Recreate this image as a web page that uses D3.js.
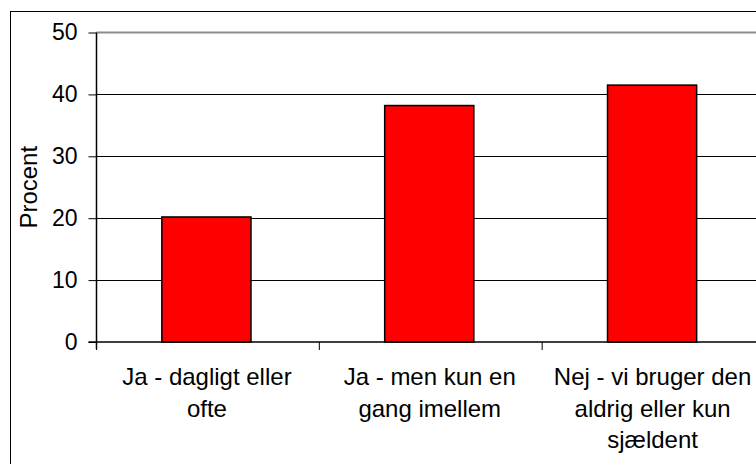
<!DOCTYPE html>
<html>
<head>
<meta charset="utf-8">
<script src="https://cdn.jsdelivr.net/npm/d3@7"></script>
<style>
  html, body { margin: 0; padding: 0; background: #fff; }
  svg { display: block; }
  text { font-family: Arial, "Liberation Sans", sans-serif; fill: #000; }
</style>
</head>
<body>
<svg id="chart" width="756" height="464"></svg>
<script>
// Survey answers (percent of respondents)
const categories = [
  ["Ja - dagligt eller", "ofte"],
  ["Ja - men kun en", "gang imellem"],
  ["Nej - vi bruger den", "aldrig eller kun", "sjældent"]
];
const values = [20.2, 38.2, 41.5];
const yTicks = [0, 10, 20, 30, 40, 50];
const yTitle = "Procent";

const FONT = 24;

const svg = d3.select("#chart");

// Outer chart frame (extends past the right/bottom edge)
svg.append("rect")
  .attr("x", 10.5).attr("y", 11.5)
  .attr("width", 800).attr("height", 500)
  .attr("fill", "#fff").attr("stroke", "#000").attr("stroke-width", 1);

const plot = { left: 96.5, top: 32.5, right: 765, bottom: 342 };

const x = d3.scaleBand()
  .domain(d3.range(categories.length))
  .range([plot.left, plot.right])
  .paddingInner(0.6)
  .paddingOuter(0.3);

const step = (plot.right - plot.left) / categories.length;

const y = d3.scaleLinear()
  .domain([0, 50])
  .range([plot.bottom, plot.top]);

// Gridlines
svg.append("g")
  .selectAll("line")
  .data(yTicks.filter(t => t > 0 && t < 50))
  .join("line")
  .attr("x1", plot.left).attr("x2", plot.right)
  .attr("y1", d => Math.round(y(d)) + 0.5).attr("y2", d => Math.round(y(d)) + 0.5)
  .attr("stroke", "#000").attr("stroke-width", 1);

// Plot area top border
svg.append("line")
  .attr("x1", plot.left).attr("x2", plot.right)
  .attr("y1", y(50)).attr("y2", y(50))
  .attr("stroke", "#8c8c8c").attr("stroke-width", 2);

// Bars
svg.append("g")
  .selectAll("rect")
  .data(values)
  .join("rect")
  .attr("x", (d, i) => x(i) - 1.5)
  .attr("y", d => y(d))
  .attr("width", x.bandwidth())
  .attr("height", d => y(0) - y(d))
  .attr("fill", "#ff0000")
  .attr("stroke", "#000")
  .attr("stroke-width", 1.5);

// Y axis
const yAxis = d3.axisLeft(y)
  .tickValues(yTicks)
  .tickSize(8)
  .tickPadding(11)
  .tickFormat(d3.format("d"));

const gy = svg.append("g")
  .attr("transform", `translate(${plot.left},0)`)
  .call(yAxis);
gy.select(".domain").attr("stroke", "#000").attr("stroke-width", 1.5)
  .attr("d", `M0,${y(50)}V${y(0) + 7}`);
gy.selectAll(".tick line").attr("stroke", "#000");
gy.selectAll(".tick text")
  .attr("font-size", 23)
  .attr("font-family", "Arial, 'Liberation Sans', sans-serif")
  .attr("fill", "#000");

// X axis baseline and category separators
const gx = svg.append("g");
gx.append("line")
  .attr("x1", plot.left - 8).attr("x2", plot.right)
  .attr("y1", y(0)).attr("y2", y(0))
  .attr("stroke", "#000").attr("stroke-width", 1.5);
gx.selectAll("line.sep")
  .data(d3.range(categories.length + 1))
  .join("line")
  .attr("class", "sep")
  .attr("x1", i => plot.left + i * step).attr("x2", i => plot.left + i * step)
  .attr("y1", y(0)).attr("y2", y(0) + 8)
  .attr("stroke", "#000").attr("stroke-width", 1);

// Category labels
const labels = svg.append("g")
  .selectAll("text")
  .data(categories)
  .join("text")
  .attr("text-anchor", "middle")
  .attr("font-size", FONT)
  .attr("x", (d, i) => x(i) + x.bandwidth() / 2 - 1)
  .attr("y", 385);
labels.selectAll("tspan")
  .data(d => d)
  .join("tspan")
  .attr("x", function () { return d3.select(this.parentNode).attr("x"); })
  .attr("dy", (d, j) => j === 0 ? 0 : 31.5)
  .text(d => d);

// Y title
svg.append("text")
  .attr("transform", `translate(37,${(y(0) + y(50)) / 2}) rotate(-90)`)
  .attr("text-anchor", "middle")
  .attr("font-size", FONT)
  .text(yTitle);
</script>
</body>
</html>
